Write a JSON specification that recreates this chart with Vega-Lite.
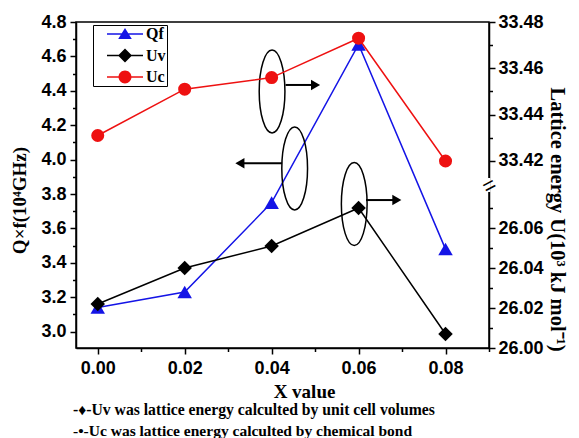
{
  "$schema": "https://vega.github.io/schema/vega-lite/v6.json",
  "width": 413,
  "height": 326,
  "autosize": {"type": "none"},
  "padding": {"left": 76, "top": 22, "right": 90, "bottom": 90},
  "background": "white",
  "datasets": {
    "qf": [
      {"x": 0.00, "value": 3.14},
      {"x": 0.02, "value": 3.23},
      {"x": 0.04, "value": 3.75},
      {"x": 0.06, "value": 4.67},
      {"x": 0.08, "value": 3.48}
    ],
    "uv": [
      {"x": 0.00, "value": 26.022},
      {"x": 0.02, "value": 26.040},
      {"x": 0.04, "value": 26.051},
      {"x": 0.06, "value": 26.070},
      {"x": 0.08, "value": 26.007}
    ],
    "uc": [
      {"x": 0.00, "value": 33.431},
      {"x": 0.02, "value": 33.451},
      {"x": 0.04, "value": 33.456},
      {"x": 0.06, "value": 33.473},
      {"x": 0.08, "value": 33.420}
    ],
    "ellipses": [
      {"x": 0.0401, "value": 4.396},
      {"x": 0.0453, "value": 3.949},
      {"x": 0.0590, "value": 3.742}
    ],
    "arrows": [
      {"x": 0.0432, "x2": 0.0501, "value": 4.434},
      {"x": 0.0424, "x2": 0.0327, "value": 3.979},
      {"x": 0.0617, "x2": 0.0688, "value": 3.765}
    ],
    "heads": [
      {"x": 0.0501, "value": 4.434, "dir": "right"},
      {"x": 0.0327, "value": 3.979, "dir": "left"},
      {"x": 0.0688, "value": 3.765, "dir": "right"}
    ],
    "brk": [{"x": 0.09, "value": 26.0815}],
    "legend": [{"s": "Qf"}, {"s": "Uv"}, {"s": "Uc"}]
  },
  "title": {
    "text": "-♦-Uv was lattice energy calculted by unit cell volumes",
    "subtitle": "-•-Uc was lattice energy calculted by chemical bond",
    "orient": "bottom",
    "anchor": "start",
    "frame": "group",
    "dx": -3,
    "offset": 2,
    "font": "Liberation Serif",
    "fontSize": 15.7,
    "fontWeight": "bold",
    "color": "black",
    "subtitleFont": "Liberation Serif",
    "subtitleFontSize": 15.5,
    "subtitleFontWeight": "bold",
    "subtitleColor": "black",
    "subtitlePadding": 5
  },
  "config": {
    "view": {"stroke": "black", "strokeWidth": 1.5},
    "axis": {
      "domainColor": "black",
      "domainWidth": 1.5,
      "tickColor": "black",
      "tickWidth": 1.5,
      "grid": false,
      "labelFont": "Liberation Sans",
      "labelFontWeight": "bold",
      "labelFontSize": 18,
      "labelColor": "black",
      "labelOverlap": false,
      "labelFlush": false,
      "labelBound": false,
      "titleFont": "Liberation Serif",
      "titleFontWeight": "bold",
      "titleFontSize": 19,
      "titleColor": "black"
    }
  },
  "encoding": {
    "x": {
      "field": "x",
      "type": "quantitative",
      "scale": {"domain": [-0.005, 0.09], "nice": false, "zero": false},
      "axis": {
        "title": "X value",
        "values": [0, 0.01, 0.02, 0.03, 0.04, 0.05, 0.06, 0.07, 0.08, 0.09],
        "labelExpr": "datum.value < 0.085 && round(datum.value*100) % 2 == 0 ? format(datum.value, '.2f') : ''",
        "tickSize": {"condition": {"test": "round(datum.value*100) % 2 == 0", "value": 6}, "value": 3.5},
        "labelOverlap": false,
        "labelPadding": 5,
        "titleX": 228,
        "titleY": 43,
        "titleAlign": "center",
        "titleBaseline": "middle"
      }
    }
  },
  "layer": [
    {
      "encoding": {
        "y": {
          "field": "value",
          "type": "quantitative",
          "scale": {"domain": [2.905, 4.8], "nice": false, "zero": false},
          "axis": {
            "orient": "left",
            "title": "Q×f(10⁴GHz)",
            "values": [3, 3.1, 3.2, 3.3, 3.4, 3.5, 3.6, 3.7, 3.8, 3.9, 4, 4.1, 4.2, 4.3, 4.4, 4.5, 4.6, 4.7, 4.8],
            "labelExpr": "round(datum.value*10) % 2 == 0 ? format(datum.value, '.1f') : ''",
            "tickSize": {"condition": {"test": "round(datum.value*10) % 2 == 0", "value": 6}, "value": 3.5},
            "labelOverlap": false,
            "labelPadding": 4,
            "titleAngle": -90,
            "titleX": -57,
            "titleY": 178,
            "titleAlign": "center",
            "titleBaseline": "middle"
          }
        }
      },
      "layer": [
        {
          "data": {"name": "qf"},
          "mark": {"type": "line", "color": "#1414e6", "strokeWidth": 1.5}
        },
        {
          "data": {"name": "qf"},
          "mark": {"type": "point", "shape": "triangle-up", "filled": true, "color": "#1414e6", "opacity": 1, "size": 210}
        },
        {
          "data": {"name": "ellipses"},
          "mark": {"type": "point", "shape": "M0,-1A0.31,1 0 1,1 0,1A0.31,1 0 1,1 0,-1Z", "filled": false, "stroke": "black", "strokeWidth": 1.5, "opacity": 1, "size": 6889}
        },
        {
          "data": {"name": "arrows"},
          "mark": {"type": "rule", "color": "black", "strokeWidth": 2},
          "encoding": {"x2": {"field": "x2"}}
        },
        {
          "data": {"name": "heads"},
          "transform": [{"filter": "datum.dir == 'right'"}],
          "mark": {"type": "point", "shape": "triangle-right", "filled": true, "color": "black", "opacity": 1, "size": 110}
        },
        {
          "data": {"name": "heads"},
          "transform": [{"filter": "datum.dir == 'left'"}],
          "mark": {"type": "point", "shape": "triangle-left", "filled": true, "color": "black", "opacity": 1, "size": 110}
        }
      ]
    },
    {
      "encoding": {
        "y": {
          "field": "value",
          "type": "quantitative",
          "scale": {"domain": [26.0, 26.0825, 33.4105, 33.48], "range": [326, 161, 161, 0], "nice": false, "zero": false},
          "axis": {
            "orient": "right",
            "title": "Lattice energy U(10³ kJ mol⁻¹)",
            "titleFontSize": 20.5,
            "values": [26, 26.01, 26.02, 26.03, 26.04, 26.05, 26.06, 26.07, 33.42, 33.43, 33.44, 33.45, 33.46, 33.47, 33.48],
            "labelExpr": "round(datum.value*100) % 2 == 0 ? format(datum.value, '.2f') : ''",
            "tickSize": {"condition": {"test": "round(datum.value*100) % 2 == 0", "value": 6}, "value": 3.5},
            "labelOverlap": false,
            "labelPadding": 3,
            "titleAngle": 90,
            "titleX": 67,
            "titleY": 197,
            "titleAlign": "center",
            "titleBaseline": "middle"
          }
        }
      },
      "layer": [
        {
          "data": {"name": "uv"},
          "mark": {"type": "line", "color": "black", "strokeWidth": 1.5}
        },
        {
          "data": {"name": "uv"},
          "mark": {"type": "point", "shape": "diamond", "filled": true, "color": "black", "opacity": 1, "size": 210}
        },
        {
          "data": {"name": "uc"},
          "mark": {"type": "line", "color": "#ee1111", "strokeWidth": 1.5}
        },
        {
          "data": {"name": "uc"},
          "mark": {"type": "point", "shape": "circle", "filled": true, "color": "#ee1111", "opacity": 1, "size": 170}
        },
        {
          "data": {"name": "brk"},
          "mark": {"type": "point", "shape": "M-0.2,-1H0.2V1H-0.2Z", "filled": true, "color": "white", "opacity": 1, "size": 196}
        },
        {
          "data": {"name": "brk"},
          "mark": {"type": "text", "text": "=", "font": "Liberation Sans", "fontSize": 22, "fontWeight": "normal", "color": "black", "align": "center", "baseline": "middle", "angle": -28, "dy": 1}
        }
      ]
    },
    {
      "data": {"name": "legend"},
      "mark": {"type": "point", "filled": true, "opacity": 0},
      "encoding": {
        "color": {
          "field": "s",
          "type": "nominal",
          "scale": {"domain": ["Qf", "Uv", "Uc"], "range": ["#1414e6", "#000000", "#ee1111"]},
          "legend": {
            "orient": "none", "legendX": 17, "legendY": 3, "title": null,
            "strokeColor": "black", "padding": 1,
            "labelFont": "Liberation Serif", "labelFontWeight": "bold", "labelFontSize": 16, "labelColor": "black",
            "symbolSize": 256, "symbolStrokeWidth": 0, "symbolOpacity": 1,
            "symbolOffset": 23, "labelOffset": 13, "rowPadding": 5.5
          }
        },
        "shape": {
          "field": "s",
          "type": "nominal",
          "scale": {
            "domain": ["Qf", "Uv", "Uc"],
            "range": [
              "M-2.25,-0.1H2.25V0.1H-2.25ZM0,-0.75L0.85,0.62L-0.85,0.62Z",
              "M-2.25,-0.1H2.25V0.1H-2.25ZM0,-0.875L0.875,0L0,0.875L-0.875,0Z",
              "M-2.25,-0.1H2.25V0.1H-2.25ZM-0.81,0A0.81,0.81 0 1,1 0.81,0A0.81,0.81 0 1,1 -0.81,0Z"
            ]
          },
          "legend": {
            "orient": "none", "legendX": 17, "legendY": 3, "title": null,
            "strokeColor": "black", "padding": 1,
            "labelFont": "Liberation Serif", "labelFontWeight": "bold", "labelFontSize": 16, "labelColor": "black",
            "symbolSize": 256, "symbolStrokeWidth": 0, "symbolOpacity": 1,
            "symbolOffset": 23, "labelOffset": 13, "rowPadding": 5.5
          }
        }
      }
    }
  ],
  "resolve": {"scale": {"y": "independent"}}
}
